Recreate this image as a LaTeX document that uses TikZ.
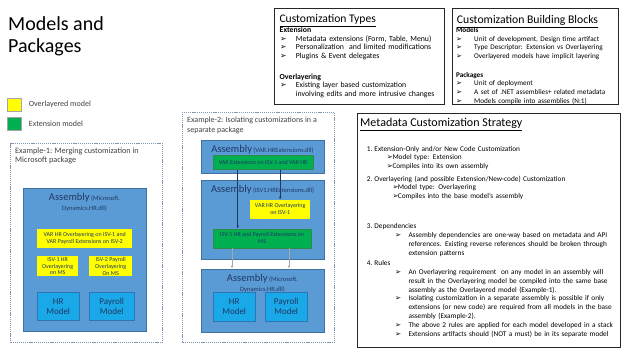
\documentclass[tikz,border=0pt]{standalone}
\usepackage{fontspec}
\setmainfont{Carlito}
\newfontfamily\symfont{DejaVu Sans}
\usetikzlibrary{arrows.meta,positioning}
\definecolor{asmblue}{HTML}{5B9BD5}
\definecolor{asmedge}{HTML}{41719C}
\definecolor{extgreen}{HTML}{00B050}
\definecolor{extedge}{HTML}{2E8B4A}
\definecolor{ovlyellow}{HTML}{FFFF00}
\definecolor{modelcyan}{HTML}{1AA9E8}
\definecolor{modeledge}{HTML}{2E75B6}
\definecolor{navytext}{HTML}{1F3864}
\definecolor{dashgrey}{HTML}{8497B0}
\definecolor{greytext}{HTML}{404040}
\definecolor{arrowgrey}{HTML}{A6A6A6}
\setlength{\parindent}{0pt}
\newcommand{\fsz}[2]{\fontsize{#1}{#2}\selectfont\lineskiplimit=-20pt\relax}
\newcommand{\pick}{{\symfont\char"27A2}}
% bullet line: bullet offset, label width, text
\newcommand{\bitem}[3]{\par\hangindent=\dimexpr#1+#2\relax\hangafter=1\hspace*{#1}\makebox[#2][l]{\pick}#3}
% numbered line
\newcommand{\nitem}[2]{\par\hangindent=17.3pt\hangafter=1\hspace*{9.7pt}\makebox[7.6pt][l]{#1}#2}

\begin{document}
\begin{tikzpicture}[x=1pt, y=-1pt, >={Latex[length=3pt,width=2.6pt]},
  boxat/.style 2 args={anchor=north west, inner sep=0pt, minimum width=#1, minimum height=#2},
  panel/.style={draw=black!85, line width=0.9pt},
  example/.style={draw=dashgrey, line width=0.8pt, dash pattern=on 1.2pt off 0.9pt},
  assembly/.style={draw=asmedge, fill=asmblue, line width=0.6pt},
  overlay/.style={fill=ovlyellow, text=navytext, align=center, font=\fsz{6}{6.8}},
  extension/.style={fill=extgreen, draw=extedge, line width=0.3pt, text=navytext, align=center, font=\fsz{6}{7}},
  model/.style={fill=modelcyan, draw=modeledge, line width=0.4pt, text=navytext, align=center, font=\fsz{9}{10}},
  plaintext/.style={anchor=north west, inner sep=0pt, align=left},
  asmtext/.style={inner sep=0pt, align=center, text=navytext, font=\fsz{6.5}{10}}]
  \useasboundingbox (0,0) rectangle (624,350);

  % title and key
  \node[plaintext, font=\fsz{20}{22}] (title) at (8,14) {\rule{0pt}{16pt}Models and\\Packages};
  \node[fill=ovlyellow, draw=black!35, boxat={14pt}{13.5pt}] (keyovl) at (7.3,97.7) {};
  \node[right=7pt of keyovl, inner sep=0pt, font=\fsz{8}{9}, text=greytext] (keyovltext) {Overlayered model};
  \node[fill=extgreen, draw=black!35, boxat={14pt}{13.5pt}] (keyext) at (7.3,116.7) {};
  \node[right=7pt of keyext, inner sep=0pt, font=\fsz{8}{9}, text=greytext] (keyexttext) {Extension model};

  % example 1
  \node[example, boxat={152pt}{199pt}] (ex1) at (10,143) {};
  \node[plaintext, text=greytext, font=\fsz{8.2}{9.5}] (ex1title) at (15,146) {\rule{0pt}{7pt}Example-1: Merging customization in\\Microsoft package};
  \node[assembly, boxat={123pt}{143pt}] (asm1) at (23,188) {};
  \node[asmtext, anchor=north] (asm1lab) at (84.5,191) {\rule{0pt}{9pt}{\fontsize{10.5}{10}\selectfont Assembly} (Microsoft.\\Dynamics.HR.dll)};
  \node[overlay, boxat={95pt}{19pt}] (var1) at (37,229) {VAR HR Overlayering on ISV-1 and\\VAR Payroll Extensions on ISV-2};
  \node[overlay, boxat={41pt}{20pt}] (isv1ovl) at (37,256) {ISV-1 HR\\Overlayering\\on MS};
  \node[overlay, boxat={43pt}{20pt}] (isv2ovl) at (89,256) {ISV-2 Payroll\\Overlayering\\On MS};
  \node[model, boxat={42pt}{28pt}] (hr1) at (37,292) {HR\\Model};
  \node[model, boxat={45pt}{28pt}] (pay1) at (89,292) {Payroll\\Model};

  % example 2
  \node[example, boxat={152pt}{230pt}] (ex2) at (182,112) {};
  \node[plaintext, text=greytext, font=\fsz{8}{9.3}] (ex2title) at (187,115.7) {\rule{0pt}{7pt}Example-2: Isolating customizations in a\\separate package};
  \node[assembly, boxat={123pt}{33pt}] (asmvar) at (201,140) {};
  \node[asmtext, anchor=base] (asmvarlab) at (262.5,153) {{\fontsize{10.5}{10}\selectfont Assembly} (VAR.HRExtensions.dll)};
  \node[extension, boxat={100pt}{14pt}] (varext) at (213,155.5) {VAR Extensions on ISV-1 and VAR HR};
  \node[assembly, boxat={123pt}{79pt}] (asmisv) at (201,180) {};
  \node[asmtext, anchor=base] (asmisvlab) at (262.5,193) {{\fontsize{10.5}{10}\selectfont Assembly} (ISV1.HRExtensions.dll)};
  \node[overlay, boxat={60pt}{19pt}] (varovl) at (250,199.5) {VAR HR Overlayering\\on ISV-1};
  \node[extension, boxat={98pt}{19pt}] (isvext) at (213,228.5) {ISV-1 HR and Payroll Extensions on\\MS};
  \node[assembly, boxat={123pt}{63pt}] (asmms) at (201,268.5) {};
  \node[asmtext, anchor=north] (asmmslab) at (262.5,272) {\rule{0pt}{9pt}{\fontsize{10.5}{10}\selectfont Assembly} (Microsoft.\\Dynamics.HR.dll)};
  \node[model, boxat={42pt}{29pt}] (hr2) at (213,292) {HR\\Model};
  \node[model, boxat={42pt}{29pt}] (pay2) at (265,292) {Payroll\\Model};
  \draw[->, navytext, line width=0.5pt] ([xshift=24.7pt]varext.south west) -- ([xshift=24.7pt]isvext.north west);
  \draw[->, navytext, line width=0.5pt] (varext.south -| varovl.north) -- (varovl.north);
  \draw[->, arrowgrey, line width=0.7pt] ([xshift=19pt]isvext.south west) -- ([xshift=31pt]asmms.north west);
  \draw[->, arrowgrey, line width=0.7pt] ([xshift=76pt]isvext.south west) -- ([xshift=88pt]asmms.north west);

  % customization types
  \node[panel, boxat={170pt}{96pt}] (types) at (274,8) {};
  \node[anchor=base west, inner sep=0pt, font=\fsz{11.6}{14}] (typestitle) at (279.3,23) {\underline{Customization Types}};
  \node[plaintext, text width=164pt, font=\fsz{7.8}{8.6}] (typesbody) at (279.5,24.5) {\rule{0pt}{8pt}\textbf{Extension}
    \bitem{0.5pt}{15.7pt}{Metadata extensions (Form, Table, Menu)}
    \bitem{0.5pt}{15.7pt}{Personalization\ \ and limited modifications}
    \bitem{0.5pt}{15.7pt}{Plugins \& Event delegates}\par\vspace{12pt}
    \textbf{Overlayering}
    \bitem{0.5pt}{15.7pt}{Existing layer based customization\newline involving edits and more intrusive changes}\par};

  % building blocks
  \node[panel, boxat={166pt}{96pt}] (blocks) at (452,8) {};
  \node[anchor=base west, inner sep=0pt, font=\fsz{11.7}{14}] (blockstitle) at (456.7,23.3) {\underline{Customization Building Blocks}};
  \node[plaintext, text width=160pt, font=\fsz{7.2}{8.6}] (blocksbody) at (456,24.5) {\rule{0pt}{8pt}\textbf{Models}
    \bitem{0pt}{18pt}{Unit of development, Design time artifact}
    \bitem{0pt}{18pt}{Type Descriptor: Extension vs Overlayering}
    \bitem{0pt}{18pt}{Overlayered models have implicit layering}\par\vspace{10.3pt}
    \textbf{Packages}
    \bitem{0pt}{18pt}{Unit of deployment}
    \bitem{0pt}{18pt}{A set of .NET assemblies+ related metadata}
    \bitem{0pt}{18pt}{Models compile into assemblies (N:1)}\par};

  % strategy
  \node[panel, boxat={263pt}{234pt}] (strategy) at (357,113) {};
  \node[anchor=base west, inner sep=0pt, font=\fsz{12}{14}] (strategytitle) at (360,126.5) {\underline{Metadata Customization Strategy}};
  \node[plaintext, text width=262pt, font=\fsz{7.3}{8.85}] (strategybody) at (357,142) {%
    \nitem{1.}{\rule{0pt}{8pt}Extension-Only and/or New Code Customization}
    \bitem{29.7pt}{5.6pt}{Model type: Extension}
    \bitem{29.7pt}{5.6pt}{Compiles into its own assembly}\par\vspace{3.5pt}
    \nitem{2.}{Overlayering (and possible Extension/New-code) Customization}
    \bitem{35.3pt}{5.4pt}{Model type: Overlayering}
    \bitem{35.3pt}{5.4pt}{Compiles into the base model’s assembly}\par\vspace{21pt}
    \nitem{3.}{Dependencies}
    \bitem{38pt}{13.3pt}{Assembly dependencies are one-way based on metadata and API\newline references. Existing reverse references should be broken through\newline extension patterns}\par\vspace{1.5pt}
    \nitem{4.}{Rules}
    \bitem{38pt}{13.3pt}{An Overlayering requirement\ \ on any model in an assembly will\newline result in the Overlayering model be compiled into the same base\newline assembly as the Overlayered model (Example-1).}
    \bitem{38pt}{13.3pt}{Isolating customization in a separate assembly is possible if only\newline extensions (or new code) are required from all models in the base\newline assembly (Example-2).}
    \bitem{38pt}{13.3pt}{The above 2 rules are applied for each model developed in a stack}
    \bitem{38pt}{13.3pt}{Extensions artifacts should (NOT a must) be in its separate model}\par};
\end{tikzpicture}
\end{document}
